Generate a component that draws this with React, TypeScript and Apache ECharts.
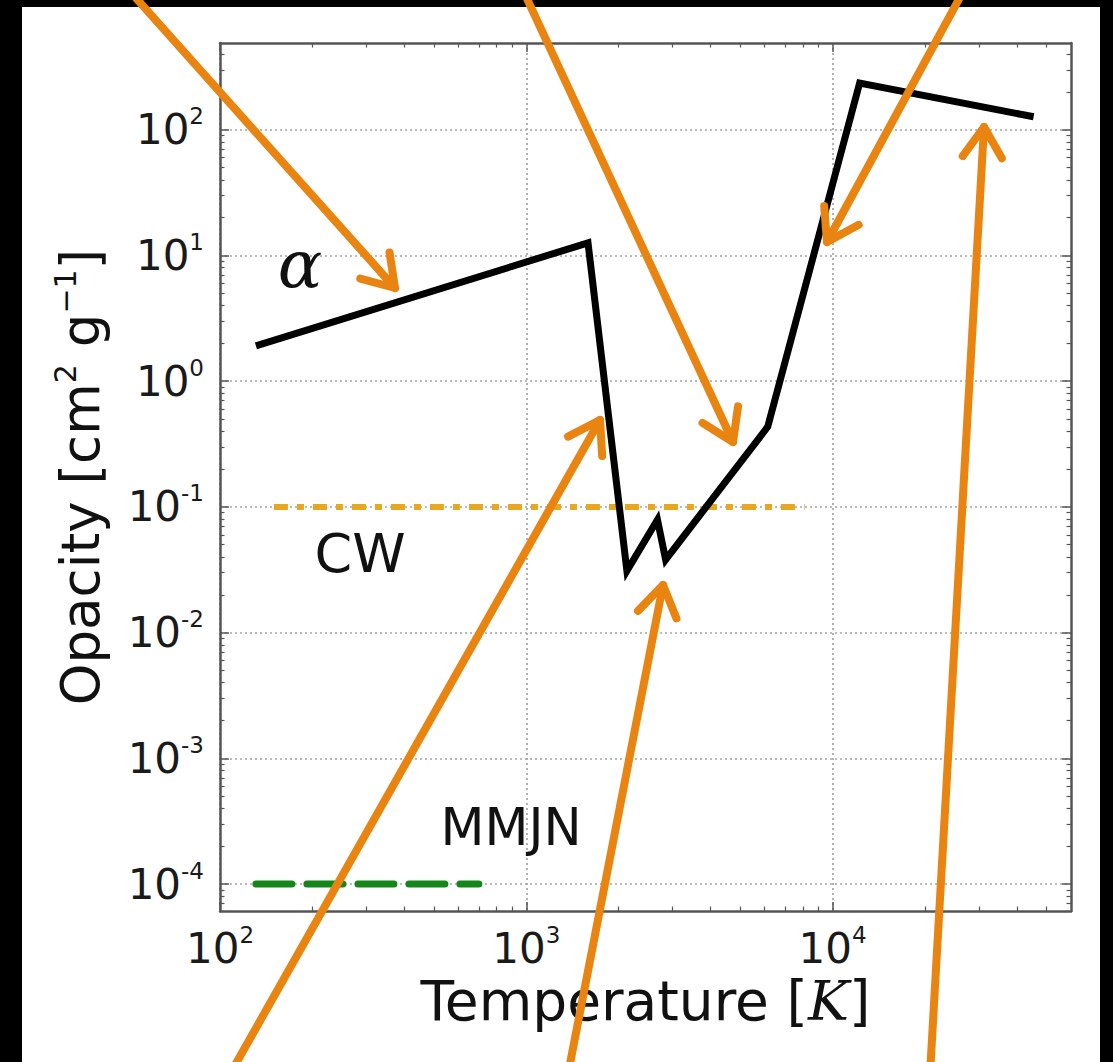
import React, { useEffect, useRef } from 'react';
import * as echarts from 'echarts';

// ---- data ----
const alphaTemperature = [131, 1590, 2130, 2680, 2850, 6140, 12250, 45300];
const alphaOpacity = [1.91, 12.6, 0.031, 0.079, 0.038, 0.434, 235, 127];
const cwTemperature = [150, 8100];
const cwOpacity = [0.1, 0.1];
const mmjnTemperature = [131, 700];
const mmjnOpacity = [1e-4, 1e-4];
const xMajorExponents = [2, 3, 4];
const yMajorExponents = [-4, -3, -2, -1, 0, 1, 2];
const xRange = [100, 60000];
const yRange = [6.1e-5, 490];

const lg = Math.log10;

function minorValues(lo: number, hi: number): number[] {
  const out: number[] = [];
  for (let n = Math.floor(lo) - 1; n <= Math.ceil(hi); n++) {
    for (let k = 2; k <= 9; k++) {
      const v = n + lg(k);
      if (v > lo && v < hi) out.push(v);
    }
  }
  return out;
}

const FONT = 'DejaVu Sans';
const AXIS_COLOR = '#555';
const ORANGE = '#E8840F';

type Arrow = { from: number[]; to: number[] };
const arrows: Arrow[] = [
  { from: [127, -12], to: [395, 288] },
  { from: [522, -12], to: [733, 442] },
  { from: [965, -12], to: [827, 242] },
  { from: [230, 1074], to: [600, 420] },
  { from: [568, 1074], to: [663, 585] },
  { from: [930, 1074], to: [984, 127] },
];

function arrowGraphics(a: Arrow) {
  const dx = a.to[0] - a.from[0];
  const dy = a.to[1] - a.from[1];
  const len = Math.hypot(dx, dy);
  const ux = -dx / len;
  const uy = -dy / len;
  const L = 36;
  const th = (33 * Math.PI) / 180;
  const c = Math.cos(th);
  const s = Math.sin(th);
  const w1 = [a.to[0] + L * (ux * c - uy * s), a.to[1] + L * (ux * s + uy * c)];
  const w2 = [a.to[0] + L * (ux * c + uy * s), a.to[1] + L * (-ux * s + uy * c)];
  const style = { stroke: ORANGE, lineWidth: 8, lineCap: 'round', lineJoin: 'round', fill: null };
  return [
    { type: 'polyline', z: 100, shape: { points: [a.from, a.to] }, style },
    { type: 'polyline', z: 100, shape: { points: [w1, a.to, w2] }, style },
  ];
}

export default function App() {
  const ref = useRef<HTMLDivElement>(null);
  useEffect(() => {
    if (!ref.current) return;
    const chart = echarts.init(ref.current, undefined, { renderer: 'svg' });
    const xMin = lg(xRange[0]);
    const xMax = lg(xRange[1]);
    const yMin = lg(yRange[0]);
    const yMax = lg(yRange[1]);
    const xMinor = minorValues(xMin, xMax);
    const yMinor = minorValues(yMin, yMax);

    const tickRich = {
      b: { fontSize: 42, fontFamily: FONT, color: '#1a1a1a' },
      s: { fontSize: 23, fontFamily: FONT, color: '#1a1a1a', padding: [0, 0, 27, 0] },
    };
    const fmt = (v: number) => `{b|10}{s|${Math.round(v)}}`;

    const baseAxis = (min: number, max: number) => ({
      type: 'value',
      min,
      max,
      axisLabel: { show: false },
      splitLine: { show: false },
    });
    const majorTick = (vals: number[]) => ({
      show: true,
      inside: true,
      length: 9,
      customValues: vals,
      lineStyle: { color: AXIS_COLOR, width: 1.5 },
    });
    const minorTick = (vals: number[]) => ({
      show: true,
      inside: true,
      length: 4.5,
      customValues: vals,
      lineStyle: { color: AXIS_COLOR, width: 1.2 },
    });
    const frameLine = { show: true, onZero: false, lineStyle: { color: AXIS_COLOR, width: 2.5 } };
    const noLine = { show: false, onZero: false };
    const gridLine = { show: true, lineStyle: { color: '#a5a5a5', width: 1.7, type: [2, 3] } };

    const option: any = {
      animation: false,
      backgroundColor: '#000',
      grid: { left: 220, right: 42, top: 43, bottom: 151, containLabel: false },
      xAxis: [
        {
          ...baseAxis(xMin, xMax),
          position: 'bottom',
          axisLine: frameLine,
          axisTick: majorTick(xMajorExponents),
          axisLabel: {
            show: true,
            customValues: xMajorExponents,
            formatter: fmt,
            margin: 12,
            rich: tickRich,
          },
          splitLine: gridLine,
          name: '{n|Temperature [}{k|K}{n|]}',
          nameLocation: 'middle',
          nameGap: 62,
          nameTextStyle: {
            rich: {
              n: { fontSize: 55, fontFamily: FONT, color: '#111' },
              k: { fontSize: 55, fontFamily: 'DejaVu Serif', fontStyle: 'italic', color: '#111' },
            },
          },
        },
        { ...baseAxis(xMin, xMax), position: 'bottom', axisLine: noLine, axisTick: minorTick(xMinor) },
        { ...baseAxis(xMin, xMax), position: 'top', axisLine: frameLine, axisTick: majorTick(xMajorExponents) },
        { ...baseAxis(xMin, xMax), position: 'top', axisLine: noLine, axisTick: minorTick(xMinor) },
      ],
      yAxis: [
        {
          ...baseAxis(yMin, yMax),
          position: 'left',
          axisLine: frameLine,
          axisTick: majorTick(yMajorExponents),
          axisLabel: {
            show: true,
            customValues: yMajorExponents,
            formatter: fmt,
            margin: 16,
            rich: tickRich,
          },
          splitLine: gridLine,
          name: '{n|Opacity [cm}{s|2}{n| g}{s|−1}{n|]}',
          nameLocation: 'middle',
          nameRotate: 90,
          nameGap: 110,
          nameTextStyle: {
            rich: {
              n: { fontSize: 53, fontFamily: FONT, color: '#111' },
              s: { fontSize: 30, fontFamily: FONT, color: '#111', padding: [0, 0, 30, 0] },
            },
          },
        },
        { ...baseAxis(yMin, yMax), position: 'left', axisLine: noLine, axisTick: minorTick(yMinor) },
        { ...baseAxis(yMin, yMax), position: 'right', axisLine: frameLine, axisTick: majorTick(yMajorExponents) },
        { ...baseAxis(yMin, yMax), position: 'right', axisLine: noLine, axisTick: minorTick(yMinor) },
      ],
      series: [
        {
          name: 'CW',
          type: 'line',
          xAxisIndex: 0,
          yAxisIndex: 0,
          symbol: 'none',
          z: 3,
          data: cwTemperature.map((t, i) => [lg(t), lg(cwOpacity[i])]),
          lineStyle: { color: '#E6A823', width: 6, type: [14, 9, 7, 9] },
        },
        {
          name: 'MMJN',
          type: 'line',
          xAxisIndex: 0,
          yAxisIndex: 0,
          symbol: 'none',
          z: 3,
          data: mmjnTemperature.map((t, i) => [lg(t), lg(mmjnOpacity[i])]),
          lineStyle: { color: '#15871a', width: 7, type: [36, 15], cap: 'round' },
        },
        {
          name: 'alpha',
          type: 'line',
          xAxisIndex: 0,
          yAxisIndex: 0,
          symbol: 'none',
          z: 5,
          data: alphaTemperature.map((t, i) => [lg(t), lg(alphaOpacity[i])]),
          lineStyle: { color: '#000', width: 7, join: 'miter' },
        },
      ],
      graphic: [
        {
          type: 'rect',
          z: -100,
          silent: true,
          shape: { x: 22, y: 7, width: 1078, height: 1070 },
          style: { fill: '#fff' },
        },
        {
          type: 'text',
          z: 50,
          x: 300,
          y: 264,
          style: {
            text: 'α',
            font: 'italic 66px "DejaVu Serif"',
            fill: '#111',
            align: 'center',
            verticalAlign: 'middle',
          },
        },
        {
          type: 'text',
          z: 50,
          x: 360,
          y: 553,
          style: { text: 'CW', font: `54px "${FONT}"`, fill: '#111', align: 'center', verticalAlign: 'middle' },
        },
        {
          type: 'text',
          z: 50,
          x: 511,
          y: 827,
          style: { text: 'MMJN', font: `51px "${FONT}"`, fill: '#111', align: 'center', verticalAlign: 'middle' },
        },
        ...arrows.flatMap(arrowGraphics),
      ],
    };
    chart.setOption(option);
    return () => chart.dispose();
  }, []);
  return (
    <div
      ref={ref}
      style={{ position: 'absolute', left: 0, top: 0, width: 1113, height: 1062 }}
    />
  );
}
